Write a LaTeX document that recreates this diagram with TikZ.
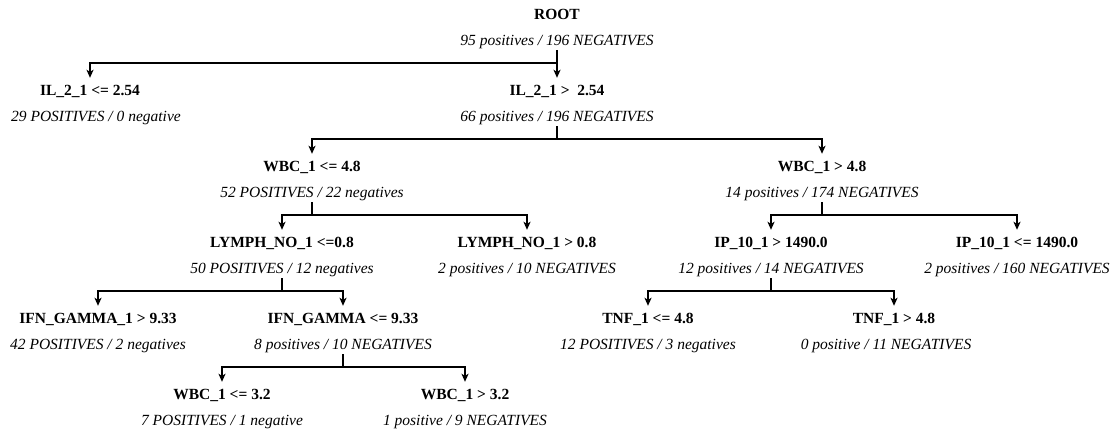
\documentclass[tikz,border=0pt]{standalone}
\usepackage{fontspec}
\setmainfont{Liberation Serif}
\usetikzlibrary{arrows.meta}
\begin{document}
\begin{tikzpicture}[x=1pt,y=-1pt,
  lab/.style={font=\fontsize{15.5}{18}\selectfont\bfseries, inner sep=0pt, text height=11pt, text depth=3pt},
  cnt/.style={font=\fontsize{15.5}{18}\selectfont\itshape, inner sep=0pt, text height=11pt, text depth=3pt},
  link/.style={line width=1.5pt, -{Stealth[length=8pt,width=7pt,inset=2pt]}, shorten <=2pt, shorten >=6pt}]
\useasboundingbox (0,0) rectangle (1116,437);
% level 0
\node[lab] (l0) at (557,15) {ROOT};
\node[cnt] (c0) at (557,41) {95 positives / 196 NEGATIVES};
% level 1
\node[lab] (l1a) at (90,91) {IL\_2\_1 <= 2.54};
\node[cnt] (c1a) at (96,117) {29 POSITIVES / 0 negative};
\node[lab] (l1b) at (557,91) {IL\_2\_1 >\ \ 2.54};
\node[cnt] (c1b) at (557,117) {66 positives / 196 NEGATIVES};
% level 2
\node[lab] (l2a) at (312,167) {WBC\_1 <= 4.8};
\node[cnt] (c2a) at (312,193) {52 POSITIVES / 22 negatives};
\node[lab] (l2b) at (822,167) {WBC\_1 > 4.8};
\node[cnt] (c2b) at (822,193) {14 positives / 174 NEGATIVES};
% level 3
\node[lab] (l3a) at (282,243) {LYMPH\_NO\_1 <=0.8};
\node[cnt] (c3a) at (282,269) {50 POSITIVES / 12 negatives};
\node[lab] (l3b) at (527,243) {LYMPH\_NO\_1 > 0.8};
\node[cnt] (c3b) at (527,269) {2 positives / 10 NEGATIVES};
\node[lab] (l3c) at (771,243) {IP\_10\_1 > 1490.0};
\node[cnt] (c3c) at (771,269) {12 positives / 14 NEGATIVES};
\node[lab] (l3d) at (1017,243) {IP\_10\_1 <= 1490.0};
\node[cnt] (c3d) at (1017,269) {2 positives / 160 NEGATIVES};
% level 4
\node[lab] (l4a) at (98,319) {IFN\_GAMMA\_1 > 9.33};
\node[cnt] (c4a) at (98,345) {42 POSITIVES / 2 negatives};
\node[lab] (l4b) at (343,319) {IFN\_GAMMA <= 9.33};
\node[cnt] (c4b) at (343,345) {8 positives / 10 NEGATIVES};
\node[lab] (l4c) at (648,319) {TNF\_1 <= 4.8};
\node[cnt] (c4c) at (648,345) {12 POSITIVES / 3 negatives};
\node[lab] (l4d) at (894,319) {TNF\_1 > 4.8};
\node[cnt] (c4d) at (886,345) {0 positive / 11 NEGATIVES};
% level 5
\node[lab] (l5a) at (222,395) {WBC\_1 <= 3.2};
\node[cnt] (c5a) at (222,421) {7 POSITIVES / 1 negative};
\node[lab] (l5b) at (465,395) {WBC\_1 > 3.2};
\node[cnt] (c5b) at (465,421) {1 positive / 9 NEGATIVES};
% connectors
\foreach \p/\c in {c0/l1a, c0/l1b, c1b/l2a, c1b/l2b, c2a/l3a, c2a/l3b,
                   c2b/l3c, c2b/l3d, c3a/l4a, c3a/l4b, c3c/l4c, c3c/l4d,
                   c4b/l5a, c4b/l5b}
  \draw[link] (\p.south) -- ++(0,15) -| (\c.north);
\end{tikzpicture}
\end{document}
